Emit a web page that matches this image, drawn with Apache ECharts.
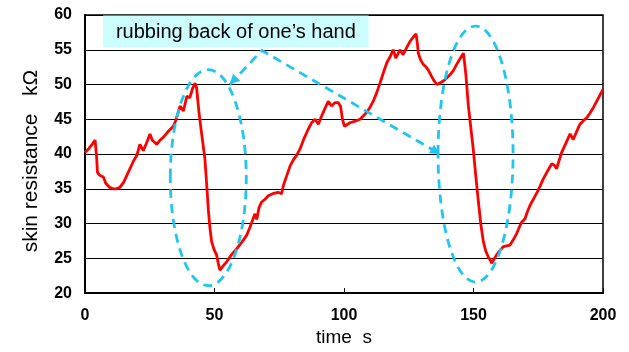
<!DOCTYPE html>
<html><head><meta charset="utf-8">
<script src="https://cdn.jsdelivr.net/npm/echarts@6/dist/echarts.min.js"></script>
<style>html,body{margin:0;padding:0;background:#fff}#c{width:629px;height:352px}</style>
</head><body><div id="c"></div>
<script>
var times = [0,1.5,3,3.9,4.5,4.8,5.5,7.1,8,9.5,10.9,12,13.5,15,16.1,17.5,18.7,20,21.2,22.5,24,25.1,26,27.7,29,30.2,32,34.1,35,36,36.7,38,39.3,40.5,41.5,42.5,43.1,44,45,46.3,47,47.6,48.2,48.9,49.8,50.8,51.5,52.1,53.3,54.7,56.5,58.6,60.5,62.4,63.5,64.4,65.6,66.3,67.2,68.2,69.5,70.8,72.5,74.6,75.9,76.6,78,79.2,80.5,81.7,83,84.3,85.6,86.5,87.5,88.8,90.1,91.4,92.7,93.9,95.2,96.5,97.8,98.7,99.4,100.2,102.3,104,106.2,108.8,110,111.3,112.6,113.9,115.2,116.5,117.8,119,120,121.6,122.8,124.2,125.5,126.7,127.8,128.3,128.7,129.5,130.6,131.5,132.5,133.5,134.5,135.8,137,138.3,139.6,140.9,142.2,143.5,144.8,146.1,146.6,147.1,148,148.9,149.9,150.9,151.9,152.8,153.8,154.7,155.7,156.4,157,158,158.9,160.2,161.5,162.8,164.1,165.4,166.7,167.6,168.6,169.9,170.8,171.8,173.4,175,176.9,178.5,180.2,181.2,182.1,183,184,185.6,187.3,188.5,189.8,191.1,192.4,193.7,195,196.3,198,200];
var resistance = [40.2,40.8,41.5,42.0,39.5,37.4,37.0,36.7,35.8,35.2,35.0,35.0,35.2,36.0,36.9,38.0,39.0,39.8,41.4,40.5,41.8,42.9,42.0,41.4,42.0,42.4,43.2,44.0,44.8,46.0,46.9,46.2,48.3,48.1,49.4,50.2,49.5,46.0,43.0,39.3,35.5,32.1,29.5,27.4,26.3,25.5,24.2,23.3,23.9,24.5,25.5,26.4,27.3,28.3,29.3,30.2,31.4,30.6,32.3,33.1,33.5,34.0,34.3,34.5,34.3,35.5,37.0,38.3,39.2,39.8,40.7,42.0,43.1,43.8,44.5,45.0,44.3,45.5,46.6,47.6,46.9,47.4,47.4,46.8,45.0,44.0,44.5,44.7,45.0,46.0,46.7,47.6,48.8,50.2,51.7,53.1,54.0,55.0,53.8,55.0,54.3,55.3,56.2,56.8,57.3,56.0,54.5,53.6,52.9,52.6,52.1,51.4,50.7,50.0,50.2,50.5,50.9,51.4,52.0,52.9,53.7,54.5,53.0,51.2,47.0,44.0,40.7,36.8,33.1,30.0,27.4,26.1,25.2,24.8,24.3,24.9,25.5,26.1,26.7,26.8,26.9,27.7,28.6,29.4,30.2,30.7,31.7,32.6,33.7,34.8,36.4,37.5,38.6,38.4,37.9,39.0,40.2,41.5,42.9,42.1,43.2,44.3,44.8,45.2,45.9,46.7,47.9,49.3];
var xTicks = [0,50,100,150,200];
var yTicks = [20,25,30,35,40,45,50,55,60];
var labelText = 'rubbing back of one\u2019s hand';
var xName = 'time  s';
var yName = 'skin resistance   k\u03a9';

var pts = times.map(function(t,i){return [t, resistance[i]];});
var chart = echarts.init(document.getElementById('c'));
var cyan = '#1fc6f2';
chart.setOption({
  animation:false,
  grid:{left:85, top:15, right:26, bottom:57, show:true, borderColor:'#000', borderWidth:1.5},
  xAxis:{type:'value', min:xTicks[0], max:xTicks[xTicks.length-1], interval:50,
    name:xName, nameLocation:'middle', nameGap:30,
    nameTextStyle:{fontFamily:'Liberation Sans, Arial', fontSize:19, color:'#000'},
    axisLine:{lineStyle:{color:'#000', width:2}},
    axisTick:{inside:true, length:5, lineStyle:{color:'#000', width:1}},
    axisLabel:{fontFamily:'Liberation Sans, Arial', fontSize:16, fontWeight:'bold', color:'#000', margin:14},
    splitLine:{show:false}},
  yAxis:{type:'value', min:yTicks[0], max:yTicks[yTicks.length-1], interval:5,
    name:yName, nameLocation:'middle', nameGap:43,
    nameTextStyle:{fontFamily:'Liberation Sans, Arial', fontSize:21, color:'#000', padding:[0,14,0,0]},
    axisLine:{show:true, lineStyle:{color:'#000', width:2}},
    axisTick:{show:false},
    axisLabel:{fontFamily:'Liberation Sans, Arial', fontSize:16, fontWeight:'bold', color:'#000', margin:13},
    splitLine:{show:true, lineStyle:{color:'#000', width:1}}},
  series:[{type:'line', data:pts, showSymbol:false, symbol:'none',
    lineStyle:{color:'#ff0000', width:2.8}, z:5}]
});

function px(t,v){return chart.convertToPixel({gridIndex:0},[t,v]);}
function arrowHead(from, to, len, w){
  var dx=to[0]-from[0], dy=to[1]-from[1], L=Math.sqrt(dx*dx+dy*dy);
  var ux=dx/L, uy=dy/L, nx=-uy, ny=ux;
  var bx=to[0]-ux*len, by=to[1]-uy*len;
  return [[to[0],to[1]],[bx+nx*w,by+ny*w],[bx-nx*w,by-ny*w]];
}
var dashStyle = {stroke:cyan, lineWidth:2.8, lineDash:[9,6], fill:null};
var e1 = px(47.6, 36.6), e2 = px(150.8, 40);
var apex = px(68.3, 54.9), tip1 = px(55.9, 50.0), tip2 = px(137.1, 40.0);
var boxA = px(7.0, 60), boxB = px(109.5, 55.4);
chart.setOption({graphic:[
  {type:'rect', shape:{x:boxA[0], y:boxA[1]+0.5, width:boxB[0]-boxA[0], height:boxB[1]-boxA[1]-0.5}, style:{fill:'#ccfdff'}, z:10},
  {type:'text', x:(boxA[0]+boxB[0])/2, y:(boxA[1]+boxB[1])/2+1, style:{text:labelText, fontFamily:'Liberation Sans, Arial', fontSize:20, fill:'#000', textAlign:'center', textVerticalAlign:'middle'}, z:11},
  {type:'ellipse', shape:{cx:e1[0], cy:e1[1], rx:38, ry:108}, style:dashStyle, z:12},
  {type:'ellipse', shape:{cx:e2[0], cy:e2[1], rx:37.5, ry:128}, style:dashStyle, z:12},
  {type:'polyline', shape:{points:[tip1, apex, tip2]}, style:{stroke:cyan, lineWidth:2.8, lineDash:[9,6], fill:null}, z:12},
  {type:'polygon', shape:{points:arrowHead(apex, tip1, 10, 5)}, style:{fill:cyan}, z:13},
  {type:'polygon', shape:{points:arrowHead(apex, tip2, 10, 5)}, style:{fill:cyan}, z:13}
]});
</script></body></html>
